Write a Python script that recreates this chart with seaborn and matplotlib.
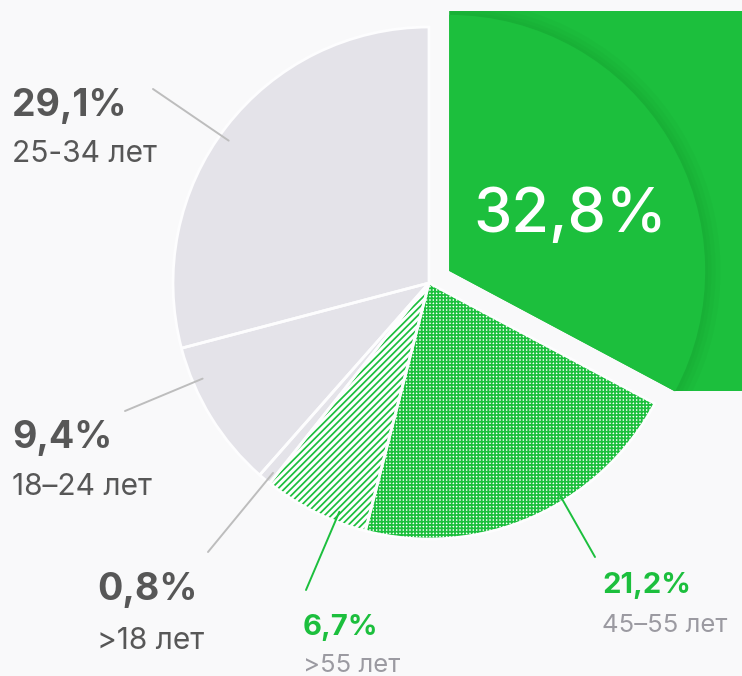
import numpy as np
import matplotlib.pyplot as plt
import seaborn as sns
from matplotlib.patches import Rectangle, Wedge, Arc

sns.set_theme(style="white")
plt.rcParams["font.family"] = ["Inter", "DejaVu Sans"]
plt.rcParams["hatch.linewidth"] = 1.25

# ---- data (counter-clockwise from 12 o'clock) ----
shares = [29.1, 9.4, 0.8, 6.7, 21.2, 32.8]
age_labels = ["25-34 лет", "18–24 лет", ">18 лет", ">55 лет", "45–55 лет"]
pct_labels = [f"{v:.1f}".replace(".", ",") + "%" for v in shares]

# ---- style ----
BG = "#f9f9fa"
GRAY = "#e4e3e9"
GREEN = "#1cbf3d"
DARK = "#575757"
LIGHT = "#9b9aa1"
LEADER = "#bdbdbd"

W, H = 742, 676
fig = plt.figure(figsize=(W / 100, H / 100), dpi=100)
fig.patch.set_facecolor(BG)
ax = fig.add_axes([0, 0, 1, 1])
ax.set_facecolor(BG)

center = (429, H - 283)
R = 256
# pie explode is in data units, so scale by the radius
explode = [0, 0, 0, 0, 0, 0.092 * R]
faces = [GRAY, GRAY, GRAY, "white", "white", GREEN]

wedges, _ = ax.pie(shares, colors=faces, startangle=90, counterclock=True,
                   center=center, radius=R, explode=explode,
                   wedgeprops=dict(linewidth=0))

# textured slices
for w, h in zip(wedges[3:5], ["/////", "+++++"]):
    w.set_hatch(h)
    w.set_edgecolor(GREEN)
    w.set_linewidth(0)

# white separators
seps, _ = ax.pie(shares, colors=["none"] * 6, startangle=90, counterclock=True,
                 center=center, radius=R,
                 wedgeprops=dict(edgecolor="#fdfdfe", linewidth=2.0))
seps[-1].set_visible(False)

# highlighted slice: green card behind the exploded wedge
ex = wedges[-1]
cx, cy = ex.center
t1, t2 = ex.theta1, ex.theta2
card_bottom = cy + R * np.sin(np.radians(t1))
clip = Rectangle((cx, card_bottom), W + 20 - cx, cy + R + 4 - card_bottom,
                 transform=ax.transData, facecolor="none", lw=0)
big = Wedge((cx, cy), R * 3, t1, t2, facecolor=GREEN, lw=0, zorder=0.6)
ax.add_patch(big)
big.set_clip_path(clip)
for lw in [22, 15, 9, 4]:
    a = Arc((cx, cy), 2 * R, 2 * R, theta1=t1, theta2=t2, color="#0f8a2a",
            lw=lw, alpha=0.07, zorder=0.7, capstyle="butt")
    ax.add_patch(a)
    a.set_clip_path(clip)
ex.set_zorder(1.5)

ax.text(570, H - 232, pct_labels[-1], ha="center", va="baseline",
        fontsize=44, fontweight="medium", color="white", zorder=3)

# ---- labels with leader lines ----
anchor_angles = [144.6, 202.9, 230.6, 248.6, 301.7]
label_pos = [(12, 116, 162), (12, 448, 495), (97, 600, 649),
             (303, 635, 672), (602, 593, 632)]
leader_ends = [(153, 89), (125, 411), (208, 552), (306, 590), (595, 557)]
highlight = [False, False, False, True, True]

for i in range(5):
    ang = np.radians(anchor_angles[i])
    inner = (center[0] + 0.96 * R * np.cos(ang), center[1] + 0.96 * R * np.sin(ang))
    ox, oy = leader_ends[i]
    lc = GREEN if highlight[i] else LEADER
    ax.annotate("", xy=inner, xytext=(ox, H - oy),
                arrowprops=dict(arrowstyle="-", color=lc, lw=1.4,
                                shrinkA=0, shrinkB=0), zorder=2)
    x, y1, y2 = label_pos[i]
    if highlight[i]:
        ax.text(x, H - y1, pct_labels[i], ha="left", va="baseline",
                fontsize=21, fontweight="bold", color=GREEN)
        ax.text(x, H - y2, age_labels[i], ha="left", va="baseline",
                fontsize=18.5, color=LIGHT)
    else:
        ax.text(x, H - y1, pct_labels[i], ha="left", va="baseline",
                fontsize=27, fontweight="bold", color=DARK)
        ax.text(x, H - y2, age_labels[i], ha="left", va="baseline",
                fontsize=21.5, color=DARK)

ax.set_xlim(0, W)
ax.set_ylim(0, H)
ax.set_aspect("equal")
ax.axis("off")

fig.savefig("out.png", dpi=100, facecolor=BG)
